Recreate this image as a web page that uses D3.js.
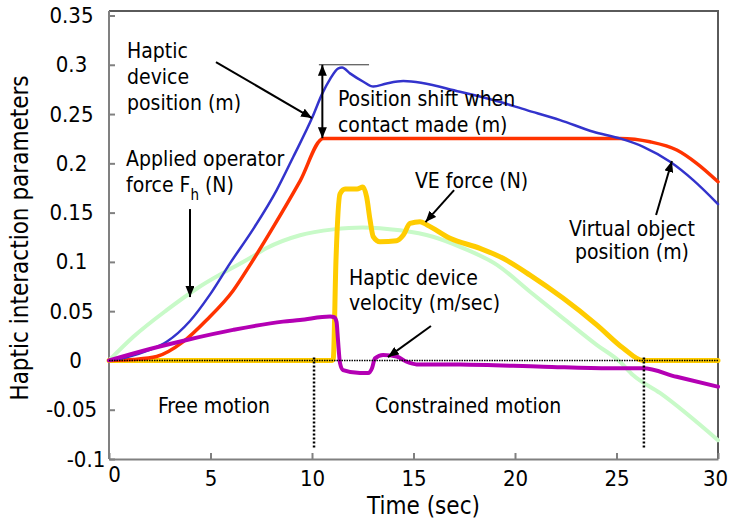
<!DOCTYPE html>
<html>
  <head>
    <title>Haptic interaction parameters</title>
    <script src="https://cdn.jsdelivr.net/npm/d3@7"></script>
    <style type="text/css">
      body {
        margin: 0;
        background: #ffffff;
      }

      text {
        font-family: "DejaVu Sans Condensed", "DejaVu Sans", sans-serif;
        font-stretch: condensed;
        fill: #000;
      }

      .axis path, .axis line {
        stroke: #808080;
        stroke-width: 2px;
      }

      .axis text {
        font-size: 22px;
      }

      .frame {
        stroke: #5a5a5a;
        stroke-width: 2px;
      }

      .series {
        fill: none;
        stroke-linejoin: round;
        stroke-linecap: round;
      }

      .note {
        font-size: 21px;
      }

      .title {
        font-size: 24px;
      }

      .arrow {
        stroke: #000;
        stroke-width: 2px;
      }
    </style>
  </head>
<body>
  <div id="chart"></div>

  <script type="text/javascript">
    var width = 729;
    var height = 528;

    var xTicks = [0, 5, 10, 15, 20, 25, 30];
    var yTicks = [0.35, 0.3, 0.25, 0.2, 0.15, 0.1, 0.05, 0, -0.05, -0.1];
    var yTickLabels = ["0.35", "0.3", "0.25", "0.2", "0.15", "0.1", "0.05", "0", "-0.05", "-0.1"];

    // [time (sec), value]
    var operatorForce = [[0, 0], [1.2, 0.024], [2.84, 0.051], [4.48, 0.075], [6.95, 0.104], [7.77, 0.114],
      [9.41, 0.127], [11.05, 0.133], [12.5, 0.135], [14.33, 0.132], [15.96, 0.1255], [17.44, 0.114],
      [19.11, 0.097], [20.74, 0.0697], [22.36, 0.043], [24.04, 0.0156], [25.17, -0.0013],
      [25.81, -0.0148], [27.14, -0.033], [30, -0.081]];

    var veForce = [[0, 0], [11.0, 0], [11.05, 0.002], [11.18, 0.101], [11.38, 0.169], [11.63, 0.174],
      [12.22, 0.174], [12.51, 0.176], [12.69, 0.166], [12.86, 0.1425], [13.02, 0.1255], [13.35, 0.1204],
      [14.17, 0.1215], [14.5, 0.1272], [14.83, 0.139], [15.32, 0.1407], [15.67, 0.1375], [16.8, 0.124],
      [18.28, 0.1137], [19.41, 0.1036], [20.74, 0.0866], [22.36, 0.0633], [24.04, 0.0359],
      [25.32, 0.0126], [26.3, 0], [30, 0]];

    var objectPosition = [[0, 0], [1.2, 0.001], [2.35, 0.004], [3.66, 0.019], [4.81, 0.041],
      [6.12, 0.071], [6.95, 0.097], [8.08, 0.135], [9.41, 0.182], [10.56, 0.2253], [25.17, 0.2253],
      [26.65, 0.2219], [27.97, 0.2135], [28.95, 0.2], [30, 0.1813]];

    var devicePosition = [[0, 0], [1.0, 0.004], [1.97, 0.0105], [2.84, 0.019], [3.99, 0.04],
      [4.98, 0.067], [5.96, 0.0985], [7.11, 0.1335], [8.26, 0.1729], [9.08, 0.2067], [10.0, 0.2459],
      [10.51, 0.271], [10.89, 0.2855], [11.3, 0.2964], [11.48, 0.2972], [11.87, 0.2913],
      [12.53, 0.2828], [13.02, 0.2779], [13.68, 0.2811], [14.5, 0.2835], [17.29, 0.2726],
      [18.93, 0.2642], [20.58, 0.254], [22.22, 0.2439], [23.86, 0.232], [25.17, 0.2253],
      [26.32, 0.2168], [27.64, 0.2016], [28.78, 0.183], [30, 0.1587]];

    var deviceVelocity = [[0, 0], [1.97, 0.0114], [3.83, 0.0208], [6.11, 0.031], [8.57, 0.0394],
      [9.41, 0.041], [10.89, 0.0445], [11.1, 0.0438], [11.21, 0.039], [11.28, 0.0208], [11.38, -0.0027],
      [11.53, -0.0098], [12.36, -0.0128], [12.76, -0.0128], [12.96, -0.0077], [13.1, 0.0021],
      [13.5, 0.0055], [14.17, 0.004], [14.66, -0.0013], [15.15, -0.004], [17.29, -0.0042],
      [21.38, -0.0064], [24.68, -0.008], [26.3, -0.008], [27.96, -0.0166], [30, -0.0267]];

    var phaseBreaks = [10.1, 26.35];

    var series = [
      {data: operatorForce, color: "#c8fac8", width: 4},
      {data: veForce, color: "#ffcc00", width: 5},
      {data: objectPosition, color: "#ff3300", width: 3.5},
      {data: devicePosition, color: "#3333cc", width: 2.5},
      {data: deviceVelocity, color: "#b400b4", width: 4}
    ];

    var notes = [
      {lines: ["Haptic", "device", "position (m)"], t: 0.89, v: 0.3065, lh: 26, anchor: "start"},
      {lines: ["Applied operator", "force F|h| (N)"], t: 0.84, v: 0.1975, lh: 26.5, anchor: "start"},
      {lines: ["Position shift when", "contact made (m)"], t: 11.28, v: 0.2586, lh: 26, anchor: "start"},
      {lines: ["VE force (N)"], t: 15.07, v: 0.1746, lh: 0, anchor: "start"},
      {lines: ["Virtual object", "position (m)"], t: 25.76, v: 0.1265, lh: 23.5, anchor: "middle"},
      {lines: ["Haptic device", "velocity (m/sec)"], t: 11.82, v: 0.0765, lh: 25, anchor: "start"},
      {lines: ["Free motion"], t: 2.41, v: -0.0534, lh: 0, anchor: "start"},
      {lines: ["Constrained motion"], t: 13.1, v: -0.0534, lh: 0, anchor: "start"}
    ];

    var arrows = [
      {from: [5.27, 0.3028], to: [10.0, 0.2459]},
      {from: [3.99, 0.1536], to: [3.99, 0.0643]},
      {from: [17.0, 0.1729], to: [15.59, 0.1404]},
      {from: [26.95, 0.1475], to: [27.73, 0.2023]},
      {from: [15.86, 0.0349], to: [13.74, 0.0034]},
      {from: [10.51, 0.2255], to: [10.51, 0.3], both: true}
    ];

    var x = d3.scaleLinear().domain([0, 30]).range([109, 718]);
    var y = d3.scaleLinear().domain([-0.1, 0.35]).range([459, 15.5]);
    var plotTop = 11;

    var svg = d3.select("#chart")
      .append("svg")
      .attr("width", width)
      .attr("height", height);

    var defs = svg.append("defs");
    defs.append("marker")
      .attr("id", "head")
      .attr("markerUnits", "userSpaceOnUse")
      .attr("viewBox", "0 0 11 9")
      .attr("refX", 11)
      .attr("refY", 4.5)
      .attr("markerWidth", 11)
      .attr("markerHeight", 9)
      .attr("orient", "auto-start-reverse")
      .append("path")
      .attr("d", "M0,0L11,4.5L0,9Z")
      .attr("fill", "#000");

    // frame top / right
    svg.append("line").attr("class", "frame")
      .attr("x1", x(0)).attr("x2", x(30) + 1).attr("y1", plotTop).attr("y2", plotTop);
    svg.append("line").attr("class", "frame")
      .attr("x1", x(30)).attr("x2", x(30)).attr("y1", plotTop).attr("y2", y(-0.1));

    var yAxis = svg.append("g")
      .attr("class", "axis")
      .attr("transform", "translate(" + x(0) + ",0)")
      .call(d3.axisLeft(y).tickValues(yTicks)
        .tickFormat(function(d, i) { return yTickLabels[i]; })
        .tickSizeInner(-6).tickSizeOuter(0));
    yAxis.select(".domain").attr("d", "M0," + plotTop + "V" + y(-0.1));
    yAxis.selectAll(".tick text")
      .attr("text-anchor", "middle")
      .attr("x", function(d) { return d === 0 ? -33.5 : (d === -0.1 ? -23 : -37.5); });

    var xAxis = svg.append("g")
      .attr("class", "axis")
      .attr("transform", "translate(0," + y(-0.1) + ")")
      .call(d3.axisBottom(x).tickValues(xTicks).tickFormat(d3.format("d"))
        .tickSizeInner(-6).tickSizeOuter(0).tickPadding(11));
    xAxis.selectAll(".tick text")
      .attr("dx", function(d) { return d === 0 ? 5 : (d === 30 ? -3 : 0); })
      .attr("y", function(d) { return d === 0 ? 7 : 11; });

    var line = d3.line()
      .x(function(d) { return x(d[0]); })
      .y(function(d) { return y(d[1]); })
      .curve(d3.curveMonotoneX);

    svg.append("g").selectAll("path")
      .data(series)
      .enter()
      .append("path")
      .attr("class", "series")
      .attr("d", function(d) { return line(d.data); })
      .attr("stroke", function(d) { return d.color; })
      .attr("stroke-width", function(d) { return d.width; });

    // zero line and phase boundaries
    svg.append("line")
      .attr("x1", x(0)).attr("x2", x(30))
      .attr("y1", y(0)).attr("y2", y(0))
      .attr("stroke", "#000").attr("stroke-width", 1.5)
      .attr("stroke-dasharray", "1.5,1");

    svg.selectAll(".phase")
      .data(phaseBreaks)
      .enter()
      .append("line")
      .attr("class", "phase")
      .attr("x1", function(d) { return x(d); })
      .attr("x2", function(d) { return x(d); })
      .attr("y1", y(0.003)).attr("y2", y(-0.0892))
      .attr("stroke", "#000").attr("stroke-width", 2.5)
      .attr("stroke-dasharray", "2,2");

    // peak tangent mark
    svg.append("line")
      .attr("x1", x(10.34)).attr("x2", x(12.81))
      .attr("y1", y(0.3)).attr("y2", y(0.3))
      .attr("stroke", "#333").attr("stroke-width", 1);

    svg.selectAll(".arrow")
      .data(arrows)
      .enter()
      .append("line")
      .attr("class", "arrow")
      .attr("x1", function(d) { return x(d.from[0]); })
      .attr("y1", function(d) { return y(d.from[1]); })
      .attr("x2", function(d) { return x(d.to[0]); })
      .attr("y2", function(d) { return y(d.to[1]); })
      .attr("marker-end", "url(#head)")
      .attr("marker-start", function(d) { return d.both ? "url(#head)" : null; });

    var note = svg.selectAll(".note")
      .data(notes)
      .enter()
      .append("text")
      .attr("class", "note")
      .attr("text-anchor", function(d) { return d.anchor; });

    note.each(function(d) {
      var t = d3.select(this);
      d.lines.forEach(function(str, i) {
        var parts = str.split("|");
        t.append("tspan")
          .attr("x", x(d.t))
          .attr("y", y(d.v) + i * d.lh)
          .text(parts[0]);
        if (parts.length > 1) {
          t.append("tspan").attr("dy", 8).style("font-size", "15px").text(parts[1]);
          t.append("tspan").attr("dy", -8).text(parts[2]);
        }
      });
    });

    svg.append("text")
      .attr("class", "title")
      .attr("text-anchor", "middle")
      .attr("x", 423.5)
      .attr("y", 514)
      .text("Time (sec)");

    svg.append("text")
      .attr("class", "title")
      .attr("text-anchor", "middle")
      .attr("transform", "translate(28," + ((plotTop + y(-0.1)) / 2 + 3) + ") rotate(-90)")
      .text("Haptic interaction parameters");
  </script>
</body>
</html>
